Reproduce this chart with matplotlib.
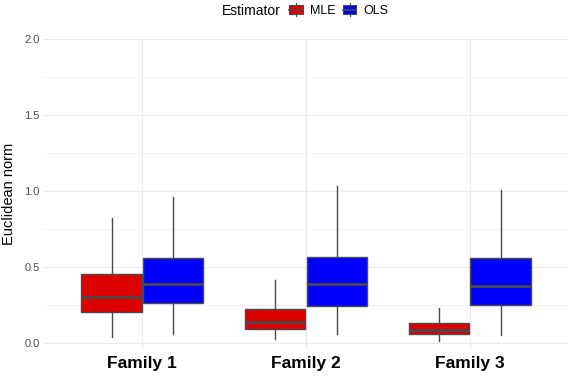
import matplotlib.pyplot as plt
from matplotlib.legend_handler import HandlerBase
from matplotlib.patches import Rectangle, Patch
from matplotlib.lines import Line2D

plt.rcParams['font.family'] = ['Liberation Sans', 'DejaVu Sans']

# data (box stats per family)
families = ['Family 1', 'Family 2', 'Family 3']
estimators = ['MLE', 'OLS']
colors = {'MLE': '#DD0000', 'OLS': '#0000FF'}

mle_whislo = [0.039, 0.026, 0.015]
mle_q1 = [0.204, 0.092, 0.059]
mle_med = [0.305, 0.140, 0.083]
mle_q3 = [0.452, 0.224, 0.129]
mle_whishi = [0.820, 0.414, 0.232]

ols_whislo = [0.061, 0.061, 0.053]
ols_q1 = [0.263, 0.246, 0.250]
ols_med = [0.388, 0.388, 0.373]
ols_q3 = [0.557, 0.564, 0.557]
ols_whishi = [0.963, 1.033, 1.007]

yticks = [0.0, 0.5, 1.0, 1.5, 2.0]

series = {
    'MLE': (mle_whislo, mle_q1, mle_med, mle_q3, mle_whishi),
    'OLS': (ols_whislo, ols_q1, ols_med, ols_q3, ols_whishi),
}

fig = plt.figure(figsize=(5.74, 3.76), dpi=100)
ax = fig.add_axes([0.0767, 0.0718, 0.913, 0.8245])

width = 0.375
line_col = '#4a4a4a'
for j, est in enumerate(estimators):
    lo, q1, med, q3, hi = series[est]
    stats = [dict(whislo=lo[i], q1=q1[i], med=med[i], q3=q3[i], whishi=hi[i], fliers=[])
             for i in range(len(families))]
    pos = [i + 1 + (j - 0.5) * width for i in range(len(families))]
    ax.bxp(stats, positions=pos, widths=width * 0.98, showcaps=False, patch_artist=True,
           boxprops=dict(facecolor=colors[est], edgecolor=line_col, linewidth=1.0),
           medianprops=dict(color=line_col, linewidth=2.0),
           whiskerprops=dict(color=line_col, linewidth=1.0), zorder=3)

ax.set_xlim(0.4, 3.6)
ax.set_ylim(-0.04, 2.0)
ax.set_xticks([1, 2, 3])
ax.set_xticklabels(families, fontsize=12.5, fontweight='bold', color='black')
ax.set_yticks(yticks)
ax.set_yticklabels([f'{v:.1f}' for v in yticks], fontsize=8, color='#4d4d4d')
ax.set_yticks([0.25, 0.75, 1.25, 1.75], minor=True)
ax.tick_params(axis='both', length=0, pad=3)
ax.tick_params(axis='x', pad=5)
ax.tick_params(axis='y', which='minor', length=0)
ax.grid(True, which='major', color='#EBEBEB', linewidth=1.0, zorder=0)
ax.grid(True, which='minor', axis='y', color='#F3F3F3', linewidth=0.6, zorder=0)
for s in ax.spines.values():
    s.set_visible(False)
ax.set_axisbelow(True)
ax.set_ylabel('Euclidean norm', fontsize=10.5, labelpad=6)


class BoxKey(HandlerBase):
    def create_artists(self, legend, orig_handle, xdescent, ydescent, width, height, fontsize, trans):
        w, h = 10, 9.5
        x0 = -xdescent + (width - w) / 2
        y0 = -ydescent + (height - h) / 2
        r = Rectangle((x0, y0 + 1.5), w, h - 3, facecolor=orig_handle.get_facecolor(),
                      edgecolor=line_col, lw=0.8, transform=trans)
        v = Line2D([x0 + w / 2, x0 + w / 2], [y0, y0 + h], color=line_col, lw=0.8, transform=trans)
        m = Line2D([x0, x0 + w], [y0 + h / 2, y0 + h / 2], color=line_col, lw=1.2, transform=trans)
        return [v, r, m]


handles = [Patch(facecolor=colors[e]) for e in estimators]
fig.text(0.387, 0.972, 'Estimator', fontsize=10, va='center', ha='left')
fig.legend(handles, estimators, handler_map={Patch: BoxKey()}, ncol=2, frameon=False,
           loc='center left', bbox_to_anchor=(0.503, 0.972), fontsize=9,
           handlelength=1.15, handleheight=1.0, handletextpad=0.55, columnspacing=0.55,
           borderaxespad=0, borderpad=0)

fig.savefig('out.png', dpi=100, facecolor='white')
